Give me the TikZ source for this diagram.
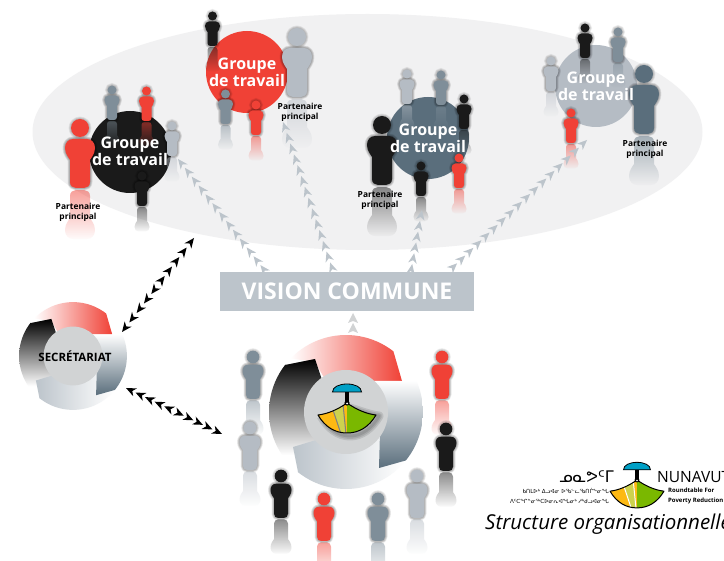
\documentclass[tikz,border=0pt]{standalone}
\usepackage{fontspec}
\setmainfont{Open Sans}
\newfontfamily\syl{DejaVu Sans}
\usetikzlibrary{fadings,decorations.markings,shadings}
\definecolor{cred}{HTML}{F04136}
\definecolor{cblk}{HTML}{1A1A1A}
\definecolor{cgry}{HTML}{7F8E99}
\definecolor{clgt}{HTML}{B5BCC4}
\definecolor{cdrk}{HTML}{5A6E7C}
\definecolor{cbar}{HTML}{BCC4CB}
\definecolor{cin}{HTML}{D1D3D4}
\definecolor{cell}{HTML}{F1F1F2}
\definecolor{lyel}{HTML}{FDB913}
\definecolor{llgt}{HTML}{CDD24F}
\definecolor{lgrn}{HTML}{7AB800}
\definecolor{lblu}{HTML}{00A0C6}
\tikzfading[name=reflect,top color=transparent!50,bottom color=transparent!98]
\newcommand\BodyPath{(-3.5,5.5) -- (3.5,5.5) .. controls (6,5.5) and (7.5,7.5) .. (7.5,10) .. controls (7.5,13) and (5.5,15) .. (5,16) -- (5,27) .. controls (5,29) and (3.5,30) .. (2,30) -- (-2,30) .. controls (-3.5,30) and (-5,29) .. (-5,27) -- (-5,16) .. controls (-5.5,15) and (-7.5,13) .. (-7.5,10) .. controls (-7.5,7.5) and (-6,5.5) .. (-3.5,5.5) -- cycle}
\newcommand\RefPath{(-3.5,55.5) -- (3.5,55.5) .. controls (6,55.5) and (7.5,53.5) .. (7.5,51) .. controls (7.5,48) and (5.5,46) .. (5,45) -- (5,34) .. controls (5,32) and (3.5,31) .. (2,31) -- (-2,31) .. controls (-3.5,31) and (-5,32) .. (-5,34) -- (-5,45) .. controls (-5.5,46) and (-7.5,48) .. (-7.5,51) .. controls (-7.5,53.5) and (-6,55.5) .. (-3.5,55.5) -- cycle}
% x, y (head centre), scale, colour
\newcommand\Person[4]{\begin{scope}[shift={(#1,#2)},scale=#3]
  \fill[#4,path fading=reflect] \RefPath;
  \foreach \w in {5,4,3,2,1}{
    \draw[black,opacity=.07,line width=\w pt,line join=round] \BodyPath;
    \draw[black,opacity=.05,line width=\w pt] (0,0) circle[radius=4.5];}
  \fill[#4] \BodyPath;
  \fill[#4] (0,0) circle[radius=4.5];
\end{scope}}
% x, y (top of the fan), scale, stripe colour
\newcommand\Logo[4]{\begin{scope}[shift={(#1,#2)},scale=#3]
  \fill[lgrn] (0,0) .. controls (10,7) and (20,11) .. (29,12) .. controls (22,24) and (12,30) .. (0,30) .. controls (-12,30) and (-22,24) .. (-29,12) .. controls (-20,11) and (-10,7) .. (0,0) -- cycle;
  \begin{scope}
    \clip (0,0) .. controls (-10,7) and (-20,11) .. (-29,12) .. controls (-22,24) and (-12,30) .. (0,30) -- cycle;
    \fill[lyel] (-30,0) rectangle (0,31);
    \fill[llgt] (-14,6) -- (-4,1) -- (-1,31) -- (-6,31) -- cycle;
    \draw[#4,line width=1pt] (-14,7) -- (-6,31);
    \draw[#4,line width=1pt] (-4,1) -- (-1,31);
  \end{scope}
  \draw[black,line width=1pt,line join=round] (0,0) .. controls (10,7) and (20,11) .. (29,12) .. controls (22,24) and (12,30) .. (0,30) .. controls (-12,30) and (-22,24) .. (-29,12) .. controls (-20,11) and (-10,7) .. (0,0) -- cycle;
  \fill[black] (-2,-11) rectangle (2,0);
  \fill[black] (0,0) circle[radius=2.6];
  \fill[white] (0,0.5) circle[radius=1];
  \filldraw[fill=lblu,draw=black,line width=.8pt] (-14.5,-11) .. controls (-14.5,-16) and (-8,-19) .. (0,-19) .. controls (8,-19) and (14.5,-16) .. (14.5,-11) -- cycle;
\end{scope}}
% x, y (centre), scale
\newcommand\Wheel[3]{\begin{scope}[shift={(#1,#2)},scale=#3]
  \shade[left color=white,right color=cred] plot[domain=224:308,samples=25] ({77*cos(\x)},{77*sin(\x)}) -- (56,-31) -- (-20,-31) -- (-31,-50) -- cycle;
  \shade[top color=black,bottom color=white] (-31,-53) -- (-61,-47) -- plot[domain=218:146,samples=20] ({77*cos(\x)},{77*sin(\x)}) -- (-20,43) -- (-20,-20) -- cycle;
  \shade[left color=cbar,right color=white] (-53,35) -- (-48,60) -- plot[domain=129:41,samples=25] ({77*cos(\x)},{77*sin(\x)}) -- (33,25) -- (-20,25) -- cycle;
  \shade[top color=white,bottom color=cdrk] (20,-31) -- (70,-31) -- plot[domain=-24:39,samples=20] ({77*cos(\x)},{77*sin(\x)}) -- (33,56) -- (34,20) -- cycle;
  \fill[cin] (0,0) circle[radius=42];
\end{scope}}
\tikzset{
  x=1pt,y=-1pt,
  grp/.style={circle,minimum size=82pt,inner sep=0pt,draw=none},
  grplabel/.style={text=white,font=\fontsize{16}{17}\selectfont\bfseries,align=center,inner sep=0pt},
  partner/.style={text=black,font=\fontsize{8.4}{10}\selectfont\bfseries,align=center,inner sep=0pt},
  chevgrey/.style={postaction={decorate,decoration={markings,mark=between positions 0 and 1 step #1pt with {\fill[cbar] (0,0) -- (10pt,4.3pt) -- (7pt,0) -- (10pt,-4.3pt) -- cycle;}}}},
  chevlite/.style={postaction={decorate,decoration={markings,mark=between positions 0 and 1 step #1pt with {\fill[cin] (0,0) -- (10pt,5pt) -- (8pt,0) -- (10pt,-5pt) -- cycle;}}}},
  chevblack/.style={postaction={decorate,decoration={markings,mark=between positions 0 and 1 step #1pt with {\fill[black] (0,0) -- (10pt,4.3pt) -- (7pt,0) -- (10pt,-4.3pt) -- cycle;}}}},
}
\begin{document}
\begin{tikzpicture}
\useasboundingbox (0,0) rectangle (724,561);
\clip (0,0) rectangle (724,561);
\fill[white] (0,0) rectangle (724,561);
\fill[cell] (367.5,132) ellipse[x radius=335,y radius=118];
% group discs
\node[grp,fill=cblk] (g1) at (130,152) {};
\node[grp,fill=cred] (g2) at (247,72) {};
\node[grp,fill=cdrk] (g3) at (428,138) {};
\node[grp,fill=clgt] (g4) at (596,86) {};
% grey connectors
\node[fill=cbar,minimum width=254pt,minimum height=39pt,inner sep=0pt,text=white,font=\fontsize{23}{23}\selectfont\bfseries] (vision) at (347,291.5) {VISION COMMUNE};
\coordinate (t1) at (178,159);
\coordinate (t2) at (283,122);
\coordinate (t3) at (422,210);
\coordinate (t4) at (587,140);
\coordinate (s1) at (265,271);
\coordinate (s2) at (333,271);
\coordinate (s3) at (411,271);
\coordinate (s4) at (449,271);
% people
\Person{80}{128}{2}{cred}
\Person{112}{90}{1}{cgry}
\Person{146.5}{91}{1}{cred}
\Person{172}{126}{1}{clgt}
\Person{142}{176}{1}{cblk}
\Person{212.5}{16}{1}{cblk}
\Person{297}{37}{2}{clgt}
\Person{225.5}{94}{1}{cgry}
\Person{256}{105}{1}{cred}
\Person{382}{125}{2}{cblk}
\Person{407}{74}{1}{clgt}
\Person{441}{75}{1}{cgry}
\Person{464}{99}{1}{cblk}
\Person{421}{166}{1}{cblk}
\Person{459}{158}{1}{cred}
\Person{585}{28}{1}{cblk}
\Person{618}{32}{1}{cgry}
\Person{551}{61}{1}{clgt}
\Person{571}{113}{1}{cred}
\Person{644}{74}{2}{cdrk}
\path[chevgrey=11.2] (t1) -- (s1);
\path[chevgrey=11.4] (t2) -- (s2);
\path[chevgrey=11] (t3) -- (s3);
\path[chevgrey=11.2] (t4) -- (s4);
% labels
\node[grplabel] (lg1) at (130,151) {Groupe\\de travail};
\node[grplabel] (lg2) at (247,72) {Groupe\\de travail};
\node[grplabel] (lg3) at (428,138) {Groupe\\de travail};
\node[grplabel] (lg4) at (596,86) {Groupe\\de travail};
\node[partner] (p1) at (78,212) {Partenaire\\principal};
\node[partner] (p2) at (300,112.5) {Partenaire\\principal};
\node[partner] (p3) at (380,200) {Partenaire\\principal};
\node[partner] (p4) at (645,149) {Partenaire\\principal};
% wheels
\Wheel{346}{412}{1}
\Wheel{73}{356}{.7}
\node[text=black,font=\fontsize{11.5}{12}\selectfont\bfseries,inner sep=0pt] (sec) at (75,356.5) {SECRÉTARIAT};
\foreach \w in {9,6,3}{\draw[black,opacity=.10,line width=\w pt,line join=round] (350,408) .. controls (360,411) and (370,415) .. (379,416) .. controls (372,428) and (362,436) .. (350,436) .. controls (338,436) and (328,428) .. (321,416);}
\Logo{347}{403}{1}{gray}
% up arrow, black connectors
\coordinate (up) at (353,313);
\coordinate (upb) at (353,331);
\path[chevlite=10] (up) -- (upb);
\coordinate (b1a) at (122,332);
\coordinate (b1m) at (157,286.5);
\coordinate (b1n) at (159,283.5);
\coordinate (b1b) at (194,238);
\coordinate (b2a) at (126,388);
\coordinate (b2m) at (172,410);
\coordinate (b2n) at (176,412);
\coordinate (b2b) at (222,434);
\path[chevblack=12] (b1a) -- (b1m);
\path[chevblack=12] (b1b) -- (b1n);
\path[chevblack=10.6] (b2a) -- (b2m);
\path[chevblack=10.6] (b2b) -- (b2n);
% people round the large wheel
\Person{253}{357}{1.4}{cgry}
\Person{442}{357}{1.4}{cred}
\Person{250}{428}{1.4}{clgt}
\Person{446}{429}{1.4}{cblk}
\Person{281}{476}{1.4}{cblk}
\Person{417}{476}{1.4}{clgt}
\Person{324}{499}{1.4}{cred}
\Person{378}{499}{1.4}{cgry}
% logo at the bottom right
\Logo{637}{480}{.93}{white}
\node[anchor=west,inner sep=0pt,font=\fontsize{15.5}{16}\selectfont] (nun) at (657,477) {NUNAVUT};
\node[anchor=west,inner sep=0pt,align=left,font=\fontsize{6}{9.5}\selectfont\bfseries] (rt) at (668,496) {Roundtable For\\Poverty Reduction};
\node[anchor=east,inner sep=0pt,font=\syl\fontsize{16}{16}\selectfont] (s0) at (614,477) {ᓄᓇᕗᑦᒥ};
\node[anchor=east,inner sep=0pt,align=right,font=\syl\fontsize{5.6}{9.5}\selectfont] (s1t) at (609,496) {ᑲᑎᒪᐅᒃ ᐃᓗᐊᓂ ᐅᖃᓪᓚᖃᑎᒌᖕᓂᖓ\\ᐱᑦᑕᖏᓐᓂᖅᑕᐅᓂᕆᐊᖓᓂᒃ ᓱᒃᑯᓗᐊᓂᖓ};
\node[anchor=base west,inner sep=0pt,font=\fontsize{20.5}{21}\selectfont\itshape] (st) at (485,530) {Structure organisationnelle};
\end{tikzpicture}
\end{document}
